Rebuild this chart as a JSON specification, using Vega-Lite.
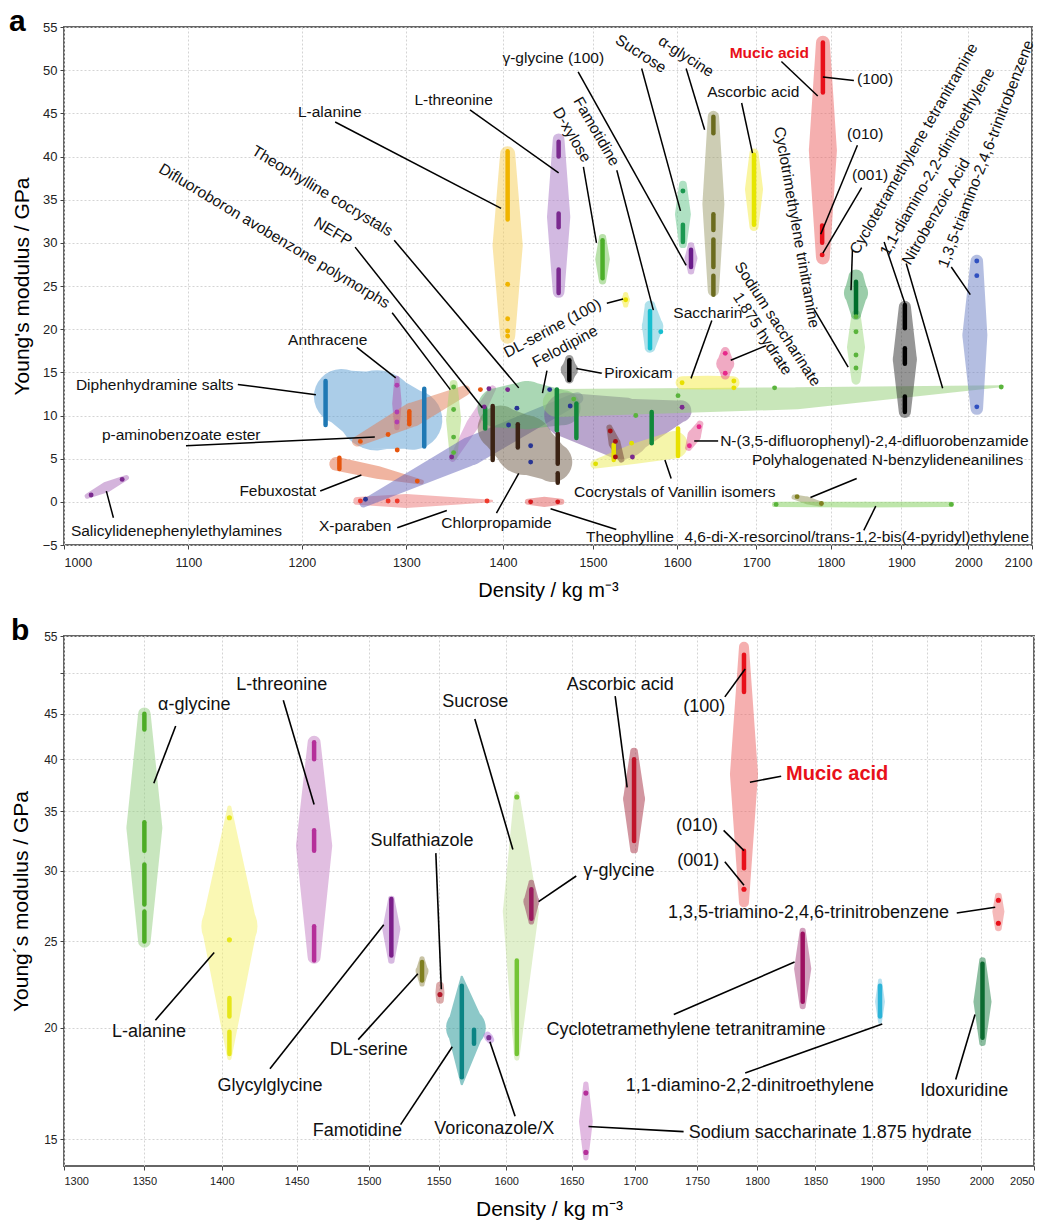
{
"$schema":"https://vega.github.io/schema/vega-lite/v6.json",
"background":"white",
"padding":{"left":8,"top":6,"right":12,"bottom":0},
"config":{"font":"Liberation Sans","view":{"stroke":"#666","strokeWidth":2},
"axis":{"labelFont":"Liberation Sans","titleFont":"Liberation Sans","titleFontWeight":"normal","labelColor":"#222","titleColor":"#000","tickColor":"#444","domain":false,"gridColor":"#d4d4d4","gridDash":[2,2],"gridWidth":1,"tickSize":4},
"text":{"font":"Liberation Sans","color":"#111"}},
"datasets":{
"aShape":[
{"id":"salicyl","k":1,"d":1018,"E":0.66,"w":0.6},{"id":"salicyl","k":2,"d":1033,"E":1.7,"w":1.25},{"id":"salicyl","k":3,"d":1049,"E":2.8,"w":0.6},
{"id":"diphen","k":1,"d":1237,"E":12.2,"w":6.4},{"id":"diphen","k":2,"d":1271,"E":10.6,"w":9.3},{"id":"diphen","k":3,"d":1306,"E":9.5,"w":6.95},
{"id":"anthr","k":1,"d":1290.7,"E":14.3,"w":0.6},{"id":"anthr","k":2,"d":1290.7,"E":11.4,"w":1.1},{"id":"anthr","k":3,"d":1290.7,"E":8.6,"w":0.6},
{"id":"pab","k":1,"d":1252,"E":7.0,"w":1.2},{"id":"pab","k":2,"d":1306,"E":10.1,"w":2.8},{"id":"pab","k":3,"d":1360,"E":12.9,"w":1.2},
{"id":"febux","k":1,"d":1232,"E":4.4,"w":1.6},{"id":"febux","k":2,"d":1272,"E":3.4,"w":1.5},{"id":"febux","k":3,"d":1315,"E":2.3,"w":0.6},
{"id":"xpar","k":1,"d":1252,"E":0.1,"w":0.9},{"id":"xpar","k":2,"d":1300,"E":0.1,"w":1.6},{"id":"xpar","k":3,"d":1388,"E":0.1,"w":0.3},
{"id":"nefp","k":1,"d":1347,"E":5.0,"w":0.75},{"id":"nefp","k":2,"d":1368,"E":9.0,"w":1.5},{"id":"nefp","k":3,"d":1389,"E":13.1,"w":0.75},
{"id":"difl","k":1,"d":1348,"E":13.65,"w":0.9},{"id":"difl","k":2,"d":1348,"E":9.5,"w":1.75},{"id":"difl","k":3,"d":1348,"E":5.3,"w":0.9},
{"id":"theoco","k":1,"d":1258,"E":-0.2,"w":0.9},{"id":"theoco","k":2,"d":1366,"E":5.9,"w":3.3},{"id":"theoco","k":3,"d":1482,"E":12.0,"w":1.4},
{"id":"chlor","k":1,"d":1397,"E":8.55,"w":5.2},{"id":"chlor","k":2,"d":1423,"E":6.6,"w":6.95},{"id":"chlor","k":3,"d":1454,"E":4.6,"w":4.6},
{"id":"felo","k":1,"d":1394,"E":10.9,"w":4.6},{"id":"felo","k":2,"d":1426,"E":11.2,"w":5.6},{"id":"felo","k":3,"d":1466,"E":10.9,"w":4.05},
{"id":"othco","k":1,"d":1470,"E":10.06,"w":5.2},{"id":"othco","k":2,"d":1533,"E":8.55,"w":7.2},{"id":"othco","k":3,"d":1604,"E":10.5,"w":2.55},
{"id":"nitro","k":1,"d":1459,"E":11.45,"w":3.25},{"id":"nitro","k":2,"d":1754,"E":12.0,"w":2.55},{"id":"nitro","k":3,"d":2054,"E":13.4,"w":0.2},
{"id":"vanil","k":1,"d":1502,"E":4.35,"w":1.0},{"id":"vanil","k":2,"d":1550,"E":5.6,"w":2.4},{"id":"vanil","k":3,"d":1596,"E":6.6,"w":3.2},
{"id":"vanilb","k":1,"d":1519,"E":8.6,"w":0.7},{"id":"vanilb","k":2,"d":1525,"E":6.8,"w":1.4},{"id":"vanilb","k":3,"d":1533,"E":4.9,"w":0.7},
{"id":"sacch","k":1,"d":1606,"E":13.8,"w":1.5},{"id":"sacch","k":2,"d":1638,"E":13.8,"w":1.6},{"id":"sacch","k":3,"d":1670,"E":13.8,"w":1.5},
{"id":"nasac","k":1,"d":1660,"E":17.4,"w":1.05},{"id":"nasac","k":2,"d":1660,"E":16.0,"w":2.1},{"id":"nasac","k":3,"d":1660,"E":14.7,"w":1.05},
{"id":"dfb","k":1,"d":1628,"E":9.0,"w":0.8},{"id":"dfb","k":2,"d":1621,"E":7.65,"w":1.6},{"id":"dfb","k":3,"d":1614,"E":6.3,"w":0.8},
{"id":"theoph","k":1,"d":1427,"E":0,"w":0.7},{"id":"theoph","k":2,"d":1445,"E":0,"w":1.2},{"id":"theoph","k":3,"d":1464,"E":0,"w":0.7},
{"id":"pirox","k":1,"d":1473,"E":16.5,"w":1.0},{"id":"pirox","k":2,"d":1473,"E":15.3,"w":2},{"id":"pirox","k":3,"d":1473,"E":14.2,"w":1.0},
{"id":"dlser","k":1,"d":1538,"E":24.0,"w":0.6},{"id":"dlser","k":2,"d":1538,"E":23.4,"w":1.0},{"id":"dlser","k":3,"d":1538,"E":22.8,"w":0.6},
{"id":"famo","k":1,"d":1567,"E":22.7,"w":1.25},{"id":"famo","k":2,"d":1570,"E":20.3,"w":2.5},{"id":"famo","k":3,"d":1567,"E":17.9,"w":1.25},
{"id":"dxyl","k":1,"d":1511,"E":30.6,"w":0.85},{"id":"dxyl","k":2,"d":1511,"E":28.1,"w":1.7},{"id":"dxyl","k":3,"d":1511,"E":25.6,"w":0.85},
{"id":"lthr","k":1,"d":1461,"E":42.0,"w":1.35},{"id":"lthr","k":2,"d":1461,"E":33,"w":2.7},{"id":"lthr","k":3,"d":1461,"E":24.3,"w":1.35},
{"id":"lala","k":1,"d":1405,"E":40.3,"w":1.75},{"id":"lala","k":2,"d":1405,"E":29.7,"w":3.5},{"id":"lala","k":3,"d":1405,"E":19.2,"w":1.75},
{"id":"ggly","k":1,"d":1617,"E":29.7,"w":0.75},{"id":"ggly","k":2,"d":1617,"E":28.2,"w":1.5},{"id":"ggly","k":3,"d":1617,"E":26.7,"w":0.75},
{"id":"sucr","k":1,"d":1607,"E":36.75,"w":0.9},{"id":"sucr","k":2,"d":1607,"E":33.3,"w":1.85},{"id":"sucr","k":3,"d":1607,"E":29.85,"w":0.9},
{"id":"agly","k":1,"d":1645,"E":44.65,"w":1.3},{"id":"agly","k":2,"d":1645,"E":34.5,"w":2.55},{"id":"agly","k":3,"d":1645,"E":24.45,"w":1.3},
{"id":"asc","k":1,"d":1697,"E":40.4,"w":1.05},{"id":"asc","k":2,"d":1697,"E":36.2,"w":2.1},{"id":"asc","k":3,"d":1697,"E":31.9,"w":1.05},
{"id":"muc","k":1,"d":1789,"E":53.2,"w":1.6},{"id":"muc","k":2,"d":1789,"E":40.7,"w":3.25},{"id":"muc","k":3,"d":1789,"E":28.3,"w":1.6},
{"id":"rdx","k":1,"d":1835,"E":21.7,"w":1.05},{"id":"rdx","k":2,"d":1835,"E":17.9,"w":2.1},{"id":"rdx","k":3,"d":1835,"E":14.1,"w":1.05},
{"id":"hmx","k":1,"d":1835,"E":26.0,"w":1.8},{"id":"hmx","k":2,"d":1835,"E":24.2,"w":2.8},{"id":"hmx","k":3,"d":1835,"E":21.7,"w":1.2},
{"id":"fox7","k":1,"d":1905,"E":22.6,"w":1.4},{"id":"fox7","k":2,"d":1905,"E":16.5,"w":2.8},{"id":"fox7","k":3,"d":1905,"E":10.4,"w":1.4},
{"id":"tatb","k":1,"d":2013,"E":27.9,"w":1.45},{"id":"tatb","k":2,"d":2010,"E":19.3,"w":2.9},{"id":"tatb","k":3,"d":2013,"E":10.8,"w":1.45},
{"id":"polyh","k":1,"d":1750,"E":0.55,"w":0.6},{"id":"polyh","k":2,"d":1768,"E":0.15,"w":0.9},{"id":"polyh","k":3,"d":1786,"E":-0.25,"w":0.6},
{"id":"resor","k":1,"d":1724,"E":-0.3,"w":0.6},{"id":"resor","k":2,"d":1848,"E":-0.3,"w":0.7},{"id":"resor","k":3,"d":1974,"E":-0.3,"w":0.6}
],
"aCore":[
{"id":"diphen","d":1222,"E":14,"E2":8.9},{"id":"diphen","d":1318,"E":13.1,"E2":6.4},
{"id":"pab","d":1303,"E":10.5,"E2":9.0},{"id":"febux","d":1235,"E":5.1,"E2":3.8},
{"id":"chlor","d":1389,"E":11.1,"E2":4.85},{"id":"chlor","d":1416,"E":9.0,"E2":6.3},{"id":"chlor","d":1460,"E":7.9,"E2":4.4},{"id":"chlor","d":1460,"E":3.3,"E2":2.2},
{"id":"felo","d":1381,"E":10.8,"E2":8.5},{"id":"felo","d":1459,"E":13.0,"E2":8.3},{"id":"felo","d":1481,"E":11.4,"E2":7.4},{"id":"felo","d":1569,"E":10.4,"E2":6.8},
{"id":"vanil","d":1524,"E":6.6,"E2":4.85},{"id":"vanil","d":1601,"E":8.5,"E2":5.3},
{"id":"pirox","d":1473,"E":16.4,"E2":14.1},{"id":"famo","d":1567,"E":22.1,"E2":17.8},{"id":"dxyl","d":1511,"E":30.3,"E2":25.9},
{"id":"lthr","d":1461,"E":41.7,"E2":40},{"id":"lthr","d":1461,"E":33.4,"E2":31.8},{"id":"lthr","d":1461,"E":26.9,"E2":24.2},
{"id":"lala","d":1405,"E":40.6,"E2":32.7},{"id":"ggly","d":1617,"E":29.2,"E2":27.2},{"id":"sucr","d":1607,"E":32.1,"E2":30.1},
{"id":"agly","d":1645,"E":44.6,"E2":42.7},{"id":"agly","d":1645,"E":33.3,"E2":31.5},{"id":"agly","d":1645,"E":30.4,"E2":27.2},{"id":"agly","d":1645,"E":26.2,"E2":24},
{"id":"asc","d":1697,"E":40.2,"E2":32.1},{"id":"muc","d":1789,"E":53.2,"E2":47.4},{"id":"muc","d":1788,"E":32,"E2":30},
{"id":"hmx","d":1835,"E":25.5,"E2":21.8},
{"id":"fox7","d":1905,"E":22.8,"E2":20.1},{"id":"fox7","d":1905,"E":17.8,"E2":16},{"id":"fox7","d":1905,"E":12.2,"E2":10.4}
],
"aDot":[
{"id":"salicyl","d":1021,"E":0.8},{"id":"salicyl","d":1045.6,"E":2.6},
{"id":"anthr","d":1290.7,"E":13.5},{"id":"anthr","d":1290.7,"E":10.4},{"id":"anthr","d":1290.7,"E":9.25},
{"id":"pab","d":1255,"E":7.0},{"id":"pab","d":1282,"E":7.8},{"id":"pab","d":1291,"E":6.0},{"id":"pab","d":1376,"E":13.0},
{"id":"febux","d":1311,"E":2.4},
{"id":"xpar","d":1255,"E":0.1},{"id":"xpar","d":1282,"E":0.1},{"id":"xpar","d":1291,"E":0.1},{"id":"xpar","d":1383,"E":0.1},
{"id":"nefp","d":1385,"E":13.1},{"id":"nefp","d":1346,"E":5.2},{"id":"nefp","d":1380,"E":11.0},
{"id":"difl","d":1348,"E":13.3},{"id":"difl","d":1348,"E":10.7},{"id":"difl","d":1348,"E":7.5},{"id":"difl","d":1348,"E":5.7},
{"id":"theoco","d":1260,"E":0.3},{"id":"theoco","d":1406,"E":8.9},{"id":"theoco","d":1415,"E":10.85},{"id":"theoco","d":1430,"E":6.5},{"id":"theoco","d":1430,"E":4.6},{"id":"theoco","d":1451,"E":13},{"id":"theoco","d":1474,"E":11.1},
{"id":"othco","d":1405,"E":13.0},{"id":"othco","d":1606,"E":10.95},{"id":"othco","d":1546,"E":5.2},
{"id":"nitro","d":1478,"E":11.9},{"id":"nitro","d":1550,"E":10},{"id":"nitro","d":1601,"E":12.3},{"id":"nitro","d":1724,"E":13.2},{"id":"nitro","d":2051,"E":13.3},
{"id":"vanil","d":1503,"E":4.4},{"id":"vanil","d":1545,"E":6.8},
{"id":"vanilb","d":1520,"E":8.2},{"id":"vanilb","d":1526,"E":7.0},{"id":"vanilb","d":1526,"E":5.2},
{"id":"sacch","d":1606,"E":13.8},{"id":"sacch","d":1671,"E":14.0},{"id":"sacch","d":1671,"E":13.2},
{"id":"nasac","d":1660,"E":17.2},{"id":"nasac","d":1660,"E":14.9},
{"id":"dfb","d":1627,"E":8.7},{"id":"dfb","d":1615,"E":6.5},
{"id":"theoph","d":1430,"E":0},{"id":"theoph","d":1460,"E":0},
{"id":"dlser","d":1538,"E":23.4},{"id":"famo","d":1580,"E":19.7},
{"id":"lala","d":1405,"E":25.2},{"id":"lala","d":1405,"E":21.2},{"id":"lala","d":1405,"E":19.8},{"id":"lala","d":1405,"E":19.2},
{"id":"sucr","d":1607,"E":36},{"id":"muc","d":1788,"E":28.6},
{"id":"rdx","d":1835,"E":21.45},{"id":"rdx","d":1835,"E":19.7},{"id":"rdx","d":1835,"E":17},{"id":"rdx","d":1835,"E":15.5},
{"id":"tatb","d":2013,"E":27.9},{"id":"tatb","d":2013,"E":26.2},{"id":"tatb","d":2013,"E":11.0},
{"id":"polyh","d":1754,"E":0.6},{"id":"polyh","d":1787,"E":-0.2},
{"id":"resor","d":1726,"E":-0.3},{"id":"resor","d":1974,"E":-0.3}
],
"aLead":[
{"d":1038.6,"E":-1.85,"d2":1033,"E2":1.24},{"d":1142.5,"E":13.6,"d2":1213,"E2":12.4},{"d":1251.6,"E":17.9,"d2":1289.5,"E2":14.35},
{"d":1098,"E":6.5,"d2":1269,"E2":7.5},{"d":1217,"E":1.25,"d2":1256,"E2":3.1},{"d":1291,"E":-3.0,"d2":1341,"E2":-1.0},
{"d":1393,"E":-1.3,"d2":1417,"E2":3.3},{"d":1452,"E":-0.8,"d2":1527,"E2":-3.2},{"d":1585,"E":4.85,"d2":1592.6,"E2":2.7},
{"d":1481,"E":15.45,"d2":1510,"E2":14.9},{"d":1448,"E":15.2,"d2":1443,"E2":12.6},{"d":1516,"E":23.0,"d2":1535,"E2":23.5},
{"d":1643,"E":21,"d2":1617,"E2":14.3},{"d":1667,"E":16.4,"d2":1713,"E2":18.1},{"d":1621,"E":7.05,"d2":1651,"E2":7.05},
{"d":1836,"E":2.7,"d2":1772,"E2":0.5},{"d":1863,"E":-0.5,"d2":1846,"E2":-3.3},{"d":1231,"E":44,"d2":1398,"E2":34},
{"d":1365,"E":45.4,"d2":1461,"E2":38.1},{"d":1489,"E":38.8,"d2":1504,"E2":30},{"d":1527.6,"E":38.4,"d2":1571,"E2":22.2},
{"d":1483,"E":49.8,"d2":1611,"E2":27.4},{"d":1557,"E":50.2,"d2":1604,"E2":33.7},{"d":1611,"E":50.2,"d2":1634,"E2":43.1},
{"d":1681,"E":46.2,"d2":1695,"E2":40.4},{"d":1733,"E":51,"d2":1782,"E2":47},{"d":1789,"E":49.2,"d2":1832,"E2":48.8},
{"d":1837,"E":41.3,"d2":1786,"E2":31},{"d":1843,"E":36.4,"d2":1789,"E2":28.8},{"d":1777,"E":22.3,"d2":1824,"E2":15.6},
{"d":1830,"E":29.2,"d2":1828,"E2":24.5},{"d":1875,"E":30.1,"d2":1905,"E2":23},{"d":1907,"E":27.6,"d2":1961,"E2":13.15},
{"d":1974,"E":27.2,"d2":2003,"E2":24},{"d":1288,"E":30.3,"d2":1417,"E2":13.2},{"d":1250,"E":29.5,"d2":1378,"E2":10.9},
{"d":1286,"E":21.9,"d2":1344.6,"E2":13.0}
],
"aLab0":[
{"t":"Salicylidenephenylethylamines","d":1090,"E":-3.4},{"t":"Diphenhydramine salts","d":1072,"E":13.5},{"t":"Anthracene","d":1224,"E":18.75},
{"t":"p-aminobenzoate ester","d":1094,"E":7.7},{"t":"Febuxostat","d":1178,"E":1.25},{"t":"X-paraben","d":1250,"E":-2.8},
{"t":"Chlorpropamide","d":1393,"E":-2.5},{"t":"Theophylline","d":1543,"E":-4.1},{"t":"Cocrystals of Vanillin isomers","d":1597,"E":1.1},
{"t":"Piroxicam","d":1553,"E":14.9},{"t":"Saccharin","d":1638,"E":21.9},{"t":"N-(3,5-difluorophenyl)-2,4-difluorobenzamide","d":1861,"E":7.05},
{"t":"Polyhalogenated N-benzylideneanilines","d":1880,"E":4.85},{"t":"4,6-di-X-resorcinol/trans-1,2-bis(4-pyridyl)ethylene","d":1836,"E":-4.1},
{"t":"L-alanine","d":1226,"E":45.2},{"t":"L-threonine","d":1348,"E":46.5},{"t":"γ-glycine (100)","d":1455,"E":51.4},
{"t":"Ascorbic acid","d":1696,"E":47.5},{"t":"(100)","d":1862,"E":49},{"t":"(010)","d":1848,"E":42.65},{"t":"(001)","d":1855,"E":37.9}
],
"aLabMucic":[{"t":"Mucic acid","d":1717,"E":52}],
"aLab31":[{"t":"Theophylline cocrystals","d":1219,"E":36},{"t":"Difluoroboron avobenzone polymorphs","d":1175,"E":30.8},{"t":"NEFP","d":1229,"E":31.3}],
"aLab33":[{"t":"Sucrose","d":1556,"E":51.9},{"t":"α-glycine","d":1611,"E":51.6}],
"aLab60":[{"t":"D-xylose","d":1476,"E":42.5},{"t":"Famotidine","d":1504,"E":42.9}],
"aLab80":[{"t":"Cyclotrimethylene trinitramine","d":1753.6,"E":31.8}],
"aLab57":[{"t":"Sodium saccharinate\n1.875 hydrate","d":1728,"E":20.6}],
"aLabM28":[{"t":"DL-serine (100)","d":1454,"E":20.1},{"t":"Felodipine","d":1468,"E":18}],
"aLabM60":[{"t":"Cyclotetramethylene tetranitramine","d":1918,"E":40.9},{"t":"1,1-diamino-2,2-dinitroethylene","d":1953,"E":39.4},{"t":"Nitrobenzoic Acid","d":1951,"E":33.6}],
"aLabM69":[{"t":"1,3,5-triamino-2,4,6-trinitrobenzene","d":2027,"E":40.3}],
"bShape":[
{"id":"agly","k":1,"d":1350,"E":45.0,"w":1.45},{"id":"agly","k":2,"d":1350,"E":33.5,"w":4.17},{"id":"agly","k":3,"d":1350,"E":25.0,"w":1.45},
{"id":"lala","k":1,"d":1405,"E":35.3,"w":0.5},{"id":"lala","k":2,"d":1405,"E":26,"w":6.5},{"id":"lala","k":3,"d":1405,"E":18.5,"w":0.5},
{"id":"lthr","k":1,"d":1462,"E":41.8,"w":1.5},{"id":"lthr","k":2,"d":1462,"E":32,"w":4.2},{"id":"lthr","k":3,"d":1462,"E":24.0,"w":1.5},
{"id":"glygly","k":1,"d":1516,"E":27.9,"w":0.75},{"id":"glygly","k":2,"d":1516,"E":25.8,"w":2.1},{"id":"glygly","k":3,"d":1516,"E":23.8,"w":0.75},
{"id":"dlser","k":1,"d":1538,"E":23.9,"w":0.6},{"id":"dlser","k":2,"d":1538,"E":23.15,"w":1.5},{"id":"dlser","k":3,"d":1538,"E":22.4,"w":0.6},
{"id":"sulfa","k":1,"d":1551,"E":22.3,"w":0.9},{"id":"sulfa","k":2,"d":1551,"E":21.9,"w":1.05},{"id":"sulfa","k":3,"d":1551,"E":21.5,"w":0.9},
{"id":"famo","k":1,"d":1567,"E":22.8,"w":0.3},{"id":"famo","k":2,"d":1570,"E":20.0,"w":4.6},{"id":"famo","k":3,"d":1567,"E":17.3,"w":0.3},
{"id":"vori","k":1,"d":1586,"E":19.6,"w":0.9},{"id":"vori","k":2,"d":1587,"E":19.5,"w":1.0},{"id":"vori","k":3,"d":1588,"E":19.4,"w":0.9},
{"id":"sucr","k":1,"d":1608,"E":36.6,"w":0.6},{"id":"sucr","k":2,"d":1611,"E":27,"w":4.17},{"id":"sucr","k":3,"d":1608,"E":18.5,"w":0.6},
{"id":"ggly","k":1,"d":1619,"E":29.1,"w":0.65},{"id":"ggly","k":2,"d":1619,"E":27.7,"w":1.85},{"id":"ggly","k":3,"d":1619,"E":26.3,"w":0.65},
{"id":"asc","k":1,"d":1699,"E":40.8,"w":0.9},{"id":"asc","k":2,"d":1699,"E":36.1,"w":2.55},{"id":"asc","k":3,"d":1699,"E":31.7,"w":0.9},
{"id":"muc","k":1,"d":1789,"E":53.5,"w":1.15},{"id":"muc","k":2,"d":1789,"E":38.5,"w":3.25},{"id":"muc","k":3,"d":1789,"E":27.65,"w":1.15},
{"id":"tatb","k":1,"d":2016,"E":28.1,"w":0.8},{"id":"tatb","k":2,"d":2016,"E":27.0,"w":1.4},{"id":"tatb","k":3,"d":2016,"E":25.9,"w":0.8},
{"id":"hmx","k":1,"d":1839,"E":25.7,"w":0.7},{"id":"hmx","k":2,"d":1839,"E":23.3,"w":2.0},{"id":"hmx","k":3,"d":1839,"E":21.15,"w":0.7},
{"id":"fox7","k":1,"d":1907,"E":22.6,"w":0.45},{"id":"fox7","k":2,"d":1907,"E":21.4,"w":1.15},{"id":"fox7","k":3,"d":1907,"E":20.3,"w":0.45},
{"id":"idox","k":1,"d":2001,"E":23.8,"w":0.75},{"id":"idox","k":2,"d":2001,"E":21.4,"w":2.1},{"id":"idox","k":3,"d":2001,"E":19.25,"w":0.75},
{"id":"nasac","k":1,"d":1661,"E":17.3,"w":0.6},{"id":"nasac","k":2,"d":1661,"E":15.7,"w":1.6},{"id":"nasac","k":3,"d":1661,"E":14.3,"w":0.6}
],
"bCore":[
{"id":"agly","d":1350,"E":45,"E2":43.2},{"id":"agly","d":1350,"E":34,"E2":31.6},{"id":"agly","d":1350,"E":30.5,"E2":27.5},{"id":"agly","d":1350,"E":27.0,"E2":25.0},
{"id":"lthr","d":1462,"E":41.8,"E2":40},{"id":"lthr","d":1462,"E":33.3,"E2":31.6},{"id":"lthr","d":1462,"E":26.0,"E2":23.8},
{"id":"glygly","d":1516,"E":27.9,"E2":24.1},{"id":"dlser","d":1538,"E":23.7,"E2":22.6},
{"id":"famo","d":1567,"E":22.3,"E2":17.6},{"id":"famo","d":1576,"E":19.9,"E2":19.2},
{"id":"sucr","d":1608,"E":23.8,"E2":18.7},{"id":"ggly","d":1619,"E":28.6,"E2":26.5},{"id":"asc","d":1699,"E":40,"E2":32.4},
{"id":"muc","d":1789,"E":52.4,"E2":47.6},{"id":"muc","d":1789,"E":31.6,"E2":30.2},
{"id":"hmx","d":1839,"E":25.5,"E2":21.4},{"id":"fox7","d":1907,"E":22.3,"E2":20.6},{"id":"idox","d":2001,"E":23.6,"E2":19.5},
{"id":"lala","d":1405,"E":21.6,"E2":20.6},{"id":"lala","d":1405,"E":19.8,"E2":18.7}
],
"bDot":[
{"id":"lala","d":1405,"E":34.4},{"id":"lala","d":1405,"E":25.1},{"id":"sucr","d":1608,"E":36.3},{"id":"vori","d":1587,"E":19.5},
{"id":"sulfa","d":1551,"E":21.8},{"id":"muc","d":1789,"E":28.6},{"id":"tatb","d":2016,"E":27.8},{"id":"tatb","d":2016,"E":26.2},
{"id":"nasac","d":1661,"E":16.9},{"id":"nasac","d":1661,"E":14.5}
],
"bLead":[
{"d":1370,"E":43.6,"d2":1356,"E2":37.6},{"d":1357,"E":20.4,"d2":1395,"E2":24.3},{"d":1441,"E":46.6,"d2":1462,"E2":35.6},
{"d":1432,"E":18.0,"d2":1510.6,"E2":26.1},{"d":1492.6,"E":19.4,"d2":1535,"E2":23.0},{"d":1548,"E":31.4,"d2":1552,"E2":22.1},
{"d":1522.6,"E":15.58,"d2":1560,"E2":19.05},{"d":1606.7,"E":15.92,"d2":1587.8,"E2":19.3},{"d":1576.6,"E":44.4,"d2":1605,"E2":31.7},
{"d":1653.5,"E":29.6,"d2":1624.5,"E2":27.7},{"d":1684,"E":47.1,"d2":1693.5,"E2":37.2},{"d":1773,"E":47.0,"d2":1790,"E2":50.5},
{"d":1772,"E":33.3,"d2":1789,"E2":31.6},{"d":1773,"E":30.7,"d2":1789,"E2":28.9},{"d":1794,"E":37.7,"d2":1820.5,"E2":38.3},
{"d":1977,"E":26.9,"d2":2013,"E2":27.3},{"d":1731,"E":20.7,"d2":1832,"E2":23.7},{"d":1790,"E":17.8,"d2":1909,"E2":20.2},
{"d":1976,"E":17.5,"d2":1994,"E2":20.7},{"d":1663,"E":15.5,"d2":1739,"E2":15.3}
],
"bLab":[
{"t":"α-glycine","d":1382,"E":46.0},{"t":"L-threonine","d":1440,"E":48.5},{"t":"Sucrose","d":1577,"E":46.4},{"t":"Ascorbic acid","d":1688,"E":48.5},
{"t":"(100)","d":1756,"E":45.8},{"t":"(010)","d":1750,"E":33.7},{"t":"(001)","d":1751,"E":30.8},{"t":"Sulfathiazole","d":1538,"E":32.4},
{"t":"γ-glycine","d":1687,"E":30.0},{"t":"1,3,5-triamino-2,4,6-trinitrobenzene","d":1844,"E":26.9},
{"t":"Cyclotetramethylene tetranitramine","d":1741,"E":19.9},{"t":"1,1-diamino-2,2-dinitroethylene","d":1794,"E":17.2},
{"t":"Idoxuridine","d":1984,"E":17.0},{"t":"Sodium saccharinate 1.875 hydrate","d":1863,"E":15.26},{"t":"L-alanine","d":1353,"E":19.8},
{"t":"Glycylglycine","d":1432,"E":17.2},{"t":"DL-serine","d":1500,"E":18.9},{"t":"Famotidine","d":1492,"E":15.34},{"t":"Voriconazole/X","d":1591,"E":15.4}
],
"bLabMucic":[{"t":"Mucic acid","d":1869,"E":38.5}]
},
"spacing":13,
"resolve":{"scale":{"x":"independent","y":"independent","color":"independent","size":"independent"}},
"vconcat":[
{
"width":968,"height":518,
"title":{"text":"a","anchor":"start","frame":"group","fontSize":30,"fontWeight":"bold","dx":-55,"offset":-16,"color":"#000","font":"Liberation Sans"},
"resolve":{"scale":{"color":"independent"}},
"layer":[
{"data":{"name":"aShape"},"mark":{"type":"trail","opacity":0.5},
"encoding":{
"x":{"field":"d","type":"quantitative","scale":{"type":"log","domain":[1000,2100],"nice":false},"axis":{"values":[1000,1100,1200,1300,1400,1500,1600,1700,1800,1900,2000,2100],"format":"d","title":"Density / kg m⁻³","labelFontSize":12.5,"titleFontSize":20,"titlePadding":12,"labelPadding":7}},
"y":{"field":"E","type":"quantitative","scale":{"domain":[-5,55],"nice":false,"zero":false},"axis":{"values":[-5,0,5,10,15,20,25,30,35,40,45,50,55],"title":"Young's modulus / GPa","labelFontSize":13,"titleFontSize":21,"titlePadding":10,"labelPadding":3}},
"size":{"field":"w","type":"quantitative","scale":{"domain":[0,10],"range":[0,86.33]},"legend":null},
"detail":{"field":"id"},
"order":{"field":"k","type":"quantitative"},
"color":{"field":"id","type":"nominal","legend":null,"scale":{
"domain":["salicyl","diphen","anthr","pab","febux","xpar","nefp","difl","theoco","chlor","felo","othco","nitro","vanil","vanilb","sacch","nasac","dfb","theoph","pirox","dlser","famo","dxyl","lthr","lala","ggly","sucr","agly","asc","muc","rdx","hmx","fox7","tatb","polyh","resor"],
"range":["#a969b9","#579bd1","#af55af","#e17d55","#e16941","#eb7373","#cd7dc3","#a5d769","#6464b9","#6e5a46","#55af69","#734b9b","#91cd73","#ebeb55","#6e3c32","#f5eb41","#e15587","#e15f91","#e15555","#3c3c3c","#f5eb2d","#5fc3d7","#73c355","#a573c3","#f5cd55","#af73c3","#5fc387","#9b9b69","#f5eb41","#eb5f5f","#9bd77d","#379b55","#2d2d2d","#697dc3","#919155","#7dcd55"]}}
}},
{"data":{"name":"aCore"},"mark":{"type":"rule","strokeWidth":4.5,"strokeCap":"round"},
"encoding":{"x":{"field":"d","type":"quantitative"},"y":{"field":"E","type":"quantitative"},"y2":{"field":"E2"},
"color":{"field":"id","type":"nominal","legend":null,"scale":{
"domain":["diphen","pab","febux","chlor","felo","vanil","pirox","famo","dxyl","lthr","lala","ggly","sucr","agly","asc","muc","hmx","fox7"],
"range":["#1f78b4","#e6550d","#e6550d","#3b2314","#11883a","#e8e000","#000000","#17becf","#4daf2a","#7b2a8f","#f0b400","#6a1b8a","#1a9850","#6b6b1e","#e6e600","#e8101a","#006d2c","#000000"]}}}},
{"data":{"name":"aDot"},"mark":{"type":"circle","size":24,"opacity":1},
"encoding":{"x":{"field":"d","type":"quantitative"},"y":{"field":"E","type":"quantitative"},
"color":{"field":"id","type":"nominal","legend":null,"scale":{
"domain":["salicyl","anthr","pab","febux","xpar","nefp","difl","theoco","othco","nitro","vanil","vanilb","sacch","nasac","dfb","theoph","dlser","famo","lala","sucr","muc","rdx","tatb","polyh","resor"],
"range":["#7b2a8f","#b03fb0","#e6550d","#e6550d","#ef3b2c","#7b2a8f","#5ab43c","#283593","#7b2a8f","#5ab43c","#e0e000","#a50f15","#e8e000","#e7298a","#e7298a","#d7191c","#e8e000","#17becf","#f0b400","#1a9850","#e8101a","#5ab43c","#3050c0","#808020","#5ab43c"]}}}},
{"data":{"name":"aLead"},"mark":{"type":"rule","color":"#000","strokeWidth":1.5},
"encoding":{"x":{"field":"d","type":"quantitative"},"y":{"field":"E","type":"quantitative"},"x2":{"field":"d2"},"y2":{"field":"E2"}}},
{"data":{"name":"aLab0"},"mark":{"type":"text","fontSize":15.5,"align":"center","baseline":"middle"},
"encoding":{"x":{"field":"d","type":"quantitative"},"y":{"field":"E","type":"quantitative"},"text":{"field":"t"}}},
{"data":{"name":"aLabMucic"},"mark":{"type":"text","fontSize":15.5,"fontWeight":"bold","color":"#e8101a","align":"center","baseline":"middle"},
"encoding":{"x":{"field":"d","type":"quantitative"},"y":{"field":"E","type":"quantitative"},"text":{"field":"t"}}},
{"data":{"name":"aLab31"},"mark":{"type":"text","fontSize":15.5,"align":"center","baseline":"middle","angle":31},
"encoding":{"x":{"field":"d","type":"quantitative"},"y":{"field":"E","type":"quantitative"},"text":{"field":"t"}}},
{"data":{"name":"aLab33"},"mark":{"type":"text","fontSize":15.5,"align":"center","baseline":"middle","angle":33},
"encoding":{"x":{"field":"d","type":"quantitative"},"y":{"field":"E","type":"quantitative"},"text":{"field":"t"}}},
{"data":{"name":"aLab60"},"mark":{"type":"text","fontSize":15.5,"align":"center","baseline":"middle","angle":60},
"encoding":{"x":{"field":"d","type":"quantitative"},"y":{"field":"E","type":"quantitative"},"text":{"field":"t"}}},
{"data":{"name":"aLab80"},"mark":{"type":"text","fontSize":15.5,"align":"center","baseline":"middle","angle":80},
"encoding":{"x":{"field":"d","type":"quantitative"},"y":{"field":"E","type":"quantitative"},"text":{"field":"t"}}},
{"data":{"name":"aLab57"},"mark":{"type":"text","fontSize":15.5,"align":"center","baseline":"middle","angle":57,"lineBreak":"\n","lineHeight":18},
"encoding":{"x":{"field":"d","type":"quantitative"},"y":{"field":"E","type":"quantitative"},"text":{"field":"t"}}},
{"data":{"name":"aLabM28"},"mark":{"type":"text","fontSize":15.5,"align":"center","baseline":"middle","angle":-28},
"encoding":{"x":{"field":"d","type":"quantitative"},"y":{"field":"E","type":"quantitative"},"text":{"field":"t"}}},
{"data":{"name":"aLabM60"},"mark":{"type":"text","fontSize":15.5,"align":"center","baseline":"middle","angle":-60},
"encoding":{"x":{"field":"d","type":"quantitative"},"y":{"field":"E","type":"quantitative"},"text":{"field":"t"}}},
{"data":{"name":"aLabM69"},"mark":{"type":"text","fontSize":15.5,"align":"center","baseline":"middle","angle":-69},
"encoding":{"x":{"field":"d","type":"quantitative"},"y":{"field":"E","type":"quantitative"},"text":{"field":"t"}}}
]
},
{
"width":970,"height":530,
"title":{"text":"b","anchor":"start","frame":"group","fontSize":30,"fontWeight":"bold","dx":-53,"offset":-16,"color":"#000","font":"Liberation Sans"},
"resolve":{"scale":{"color":"independent"}},
"layer":[
{"data":{"name":"bShape"},"mark":{"type":"trail","opacity":0.5},
"encoding":{
"x":{"field":"d","type":"quantitative","scale":{"type":"log","domain":[1300,2050],"nice":false},"axis":{"values":[1300,1350,1400,1450,1500,1550,1600,1650,1700,1750,1800,1850,1900,1950,2000,2050],"format":"d","title":"Density / kg m⁻³","labelFontSize":11,"titleFontSize":21,"titlePadding":12,"labelPadding":5}},
"y":{"field":"E","type":"quantitative","scale":{"type":"log","domain":[14,55],"nice":false},"axis":{"values":[15,20,25,30,35,40,45,50,55],"labelExpr":"datum.value == 50 ? '' : datum.label","title":"Young´s modulus / GPa","labelFontSize":12,"titleFontSize":21,"titlePadding":12,"labelPadding":3}},
"size":{"field":"w","type":"quantitative","scale":{"domain":[0,10],"range":[0,86.33]},"legend":null},
"detail":{"field":"id"},
"order":{"field":"k","type":"quantitative"},
"color":{"field":"id","type":"nominal","legend":null,"scale":{
"domain":["agly","lala","lthr","glygly","dlser","sulfa","famo","vori","sucr","ggly","asc","muc","tatb","hmx","fox7","idox","nasac"],
"range":["#91cd7d","#f5f169","#c37dc3","#af73c3","#918749","#b95555","#199191","#af73d7","#c3e19b","#912d55","#a52d41","#eb5f5f","#eb7373","#a5417d","#73c3e1","#197d41","#c373c3"]}}
}},
{"data":{"name":"bCore"},"mark":{"type":"rule","strokeWidth":4.5,"strokeCap":"round"},
"encoding":{"x":{"field":"d","type":"quantitative"},"y":{"field":"E","type":"quantitative"},"y2":{"field":"E2"},
"color":{"field":"id","type":"nominal","legend":null,"scale":{
"domain":["agly","lthr","glygly","dlser","famo","sucr","ggly","asc","muc","hmx","fox7","idox","lala"],
"range":["#4dac26","#b5309a","#7b1f8a","#7f7f20","#0b8484","#74c434","#9b1d5f","#c0142a","#e8101a","#9c1060","#2cb4d8","#0b6a30","#e6e619"]}}}},
{"data":{"name":"bDot"},"mark":{"type":"circle","size":26,"opacity":1},
"encoding":{"x":{"field":"d","type":"quantitative"},"y":{"field":"E","type":"quantitative"},
"color":{"field":"id","type":"nominal","legend":null,"scale":{
"domain":["lala","sucr","vori","sulfa","muc","tatb","nasac"],
"range":["#e6e619","#74c434","#7b3294","#b2182b","#e8101a","#e8101a","#b5309a"]}}}},
{"data":{"name":"bLead"},"mark":{"type":"rule","color":"#000","strokeWidth":1.6},
"encoding":{"x":{"field":"d","type":"quantitative"},"y":{"field":"E","type":"quantitative"},"x2":{"field":"d2"},"y2":{"field":"E2"}}},
{"data":{"name":"bLab"},"mark":{"type":"text","fontSize":18,"align":"center","baseline":"middle"},
"encoding":{"x":{"field":"d","type":"quantitative"},"y":{"field":"E","type":"quantitative"},"text":{"field":"t"}}},
{"data":{"name":"bLabMucic"},"mark":{"type":"text","fontSize":20,"fontWeight":"bold","color":"#e8101a","align":"center","baseline":"middle"},
"encoding":{"x":{"field":"d","type":"quantitative"},"y":{"field":"E","type":"quantitative"},"text":{"field":"t"}}}
]
}
]
}
